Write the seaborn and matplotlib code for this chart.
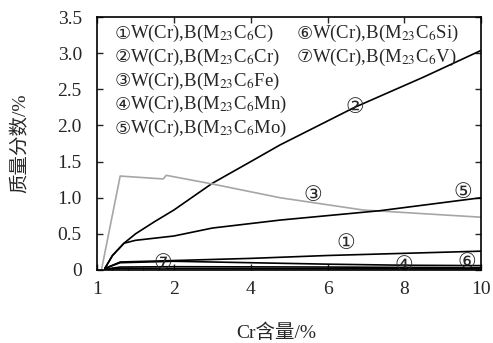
import numpy as np
import pandas as pd
import matplotlib
matplotlib.use("Agg")
import matplotlib.pyplot as plt
import seaborn as sns

sns.set_theme(style="ticks")
plt.rcParams["font.family"] = ["Liberation Serif", "Noto Sans CJK SC", "DejaVu Sans"]
plt.rcParams["mathtext.fontset"] = "stix"

# Cr content (%) and mass fraction (%) for each phase/component curve
x1 = [1.10, 1.30, 2.0, 4.0, 6.0, 8.0, 10.0]
y1 = [0.02, 0.11, 0.13, 0.16, 0.20, 0.23, 0.26]

x2 = [1.10, 1.20, 1.35, 1.50, 1.75, 2.0, 3.0, 4.0, 4.76, 6.7, 8.5, 10.0]
y2 = [0.02, 0.20, 0.37, 0.50, 0.67, 0.83, 1.20, 1.50, 1.73, 2.25, 2.67, 3.04]

x3 = [1.06, 1.30, 1.86, 1.90, 3.0, 4.76, 6.92, 10.0]
y3 = [0.02, 1.30, 1.26, 1.31, 1.19, 1.00, 0.83, 0.73]

x4 = [1.10, 1.30, 2.0, 6.0, 10.0]
y4 = [0.01, 0.04, 0.045, 0.04, 0.03]

x5 = [1.10, 1.20, 1.35, 1.50, 2.0, 3.0, 4.76, 7.36, 10.0]
y5 = [0.02, 0.20, 0.37, 0.41, 0.47, 0.58, 0.69, 0.82, 1.00]

x6 = [1.10, 1.30, 10.0]
y6 = [0.01, 0.02, 0.015]

x7 = [1.10, 1.30, 2.0, 4.0, 6.0, 8.0, 10.0]
y7 = [0.02, 0.10, 0.12, 0.10, 0.08, 0.065, 0.06]

series_ids = ["1", "2", "3", "4", "5", "6", "7"]
series_x = [x1, x2, x3, x4, x5, x6, x7]
series_y = [y1, y2, y3, y4, y5, y6, y7]

circled = ["①", "②", "③", "④", "⑤", "⑥", "⑦"]
legend_body = [
    "W(Cr),B(M$_{23}$C$_6$C)",
    "W(Cr),B(M$_{23}$C$_6$Cr)",
    "W(Cr),B(M$_{23}$C$_6$Fe)",
    "W(Cr),B(M$_{23}$C$_6$Mn)",
    "W(Cr),B(M$_{23}$C$_6$Mo)",
    "W(Cr),B(M$_{23}$C$_6$Si)",
    "W(Cr),B(M$_{23}$C$_6$V)",
]

# circled markers placed beside the curves (Cr %, mass %)
markers = {"①": (6.48, 0.37), "②": (6.71, 2.25), "③": (5.62, 1.04),
           "④": (7.99, 0.07), "⑤": (9.53, 1.08), "⑥": (9.63, 0.11),
           "⑦": (1.86, 0.10)}

xticks = [1, 2, 4, 6, 8, 10]
yticks = [0, 0.5, 1.0, 1.5, 2.0, 2.5, 3.0, 3.5]

frames = []
for sid, xs, ys in zip(series_ids, series_x, series_y):
    frames.append(pd.DataFrame({"cr": xs, "w": ys, "curve": sid}))
df = pd.concat(frames, ignore_index=True)

palette = {s: "black" for s in series_ids}
palette["3"] = "#a6a6a6"

fig = plt.figure(figsize=(4.93, 3.43), dpi=100)
ax = fig.add_axes([0.197, 0.213, 0.779, 0.737])

# the 1–2 % interval is stretched to the width of a 2 % step
def fwd(v):
    v = np.asarray(v, dtype=float)
    return np.where(v < 2, 2 * v - 2, v)

def inv(v):
    v = np.asarray(v, dtype=float)
    return np.where(v < 2, (v + 2) / 2, v)

ax.set_xscale("function", functions=(fwd, inv))

sns.lineplot(data=df, x="cr", y="w", hue="curve", palette=palette,
             estimator=None, sort=True, linewidth=1.2, legend=False, ax=ax)

ax.set_xlim(1, 10)
ax.set_ylim(0, 3.5)
ax.set_xticks(xticks)
ax.set_xticklabels([str(t) for t in xticks])
ax.set_xticks([1.2, 1.4, 1.6, 1.8], minor=True)
ax.set_yticks(yticks)
ax.set_yticklabels(["0" if t == 0 else f"{t:.1f}" for t in yticks])
ax.tick_params(axis="both", which="major", direction="in", length=4,
               width=1, top=True, right=True, labelsize=14)
ax.tick_params(axis="y", which="major", pad=11)
ax.tick_params(axis="x", which="major", pad=8)
ax.tick_params(axis="x", which="minor", direction="in", length=2,
               width=0.8, top=False)
for sp in ax.spines.values():
    sp.set_linewidth(1.2)
    sp.set_color("black")

ax.set_xlabel("Cr含量/%", fontsize=14)
ax.set_ylabel("质量分数/%", fontsize=14)
ax.xaxis.set_label_coords(0.466, -0.21)
ax.yaxis.set_label_coords(-0.177, 0.5)

# legend text block: circled index followed by the phase description
col_x = [0.045] * 5 + [0.52] * 2
row = [0, 1, 2, 3, 4, 0, 1]
for cx, r, c, body in zip(col_x, row, circled, legend_body):
    yy = 0.935 - r * 0.094
    ax.text(cx, yy, c, transform=ax.transAxes, fontsize=13,
            va="center", ha="left", family=["DejaVu Sans"])
    ax.annotate(body, xy=(cx, yy), xycoords="axes fraction",
                xytext=(11, 0), textcoords="offset points",
                fontsize=13.5, va="center", ha="left")

for lab, (mx, my) in markers.items():
    ax.text(mx, my, lab, fontsize=15, ha="center", va="center",
            family=["DejaVu Sans"])

fig.savefig("out.png", dpi=100)
